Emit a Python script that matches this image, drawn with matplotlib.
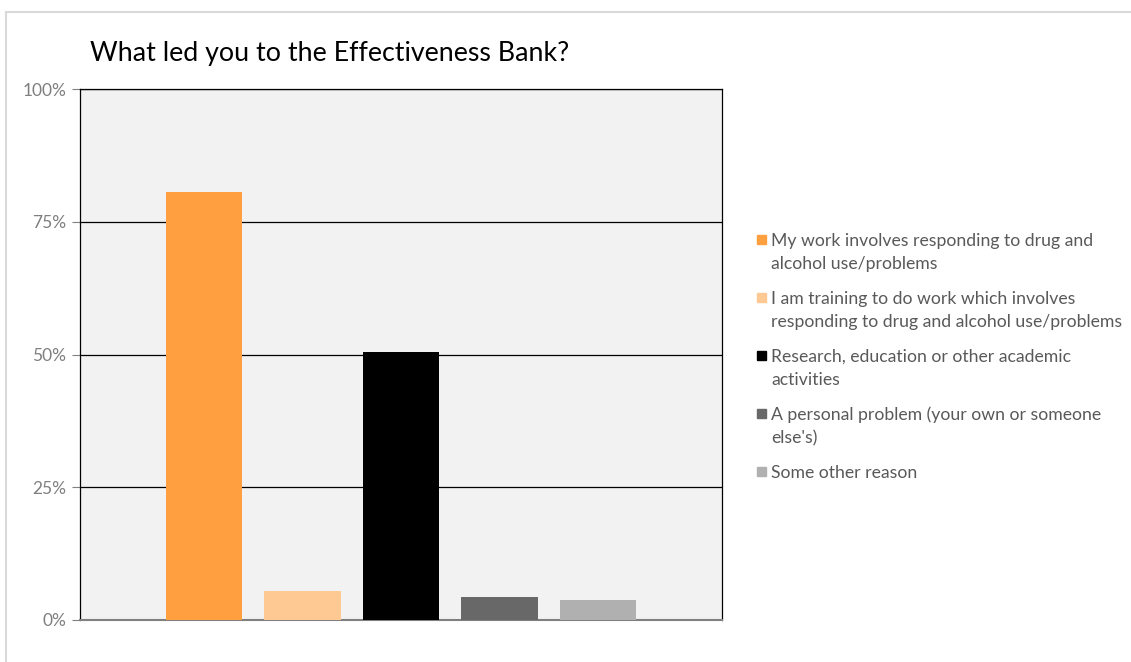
import numpy as np
import matplotlib.pyplot as plt
from matplotlib.patches import Rectangle
from matplotlib.ticker import PercentFormatter

plt.rcParams['font.family'] = ['Lato', 'DejaVu Sans']

# survey answers (share of respondents)
reasons = [
    'My work involves responding to drug and\nalcohol use/problems',
    'I am training to do work which involves\nresponding to drug and alcohol use/problems',
    'Research, education or other academic\nactivities',
    "A personal problem (your own or someone\nelse's)",
    'Some other reason',
]
shares = [80.6, 5.5, 50.5, 4.3, 3.8]
colors = ['#FF9F40', '#FFC993', '#000000', '#686868', '#B0B0B0']
ticks = [0, 25, 50, 75, 100]

W, H = 1131, 662
fig = plt.figure(figsize=(W / 100, H / 100), dpi=100)

# light chart border (Excel chart area)
fig.patches.append(Rectangle((6 / W, -0.1), 1.2, (H - 12) / H + 0.1,
                             transform=fig.transFigure, fill=False,
                             edgecolor='#D9D9D9', lw=1.5))

ax = fig.add_axes([80 / W, 42 / H, 642 / W, 531 / H])
ax.set_facecolor('#F2F2F2')

x = np.arange(len(shares))
for i in range(len(shares)):
    ax.bar(x[i], shares[i], width=0.78, color=colors[i], zorder=3)

ax.set_xlim(-1.26, 5.26)
ax.set_ylim(0, 100)
ax.set_yticks(ticks)
ax.yaxis.set_major_formatter(PercentFormatter(decimals=0))
ax.set_xticks([])
ax.grid(axis='y', color='black', lw=0.9, zorder=1)
ax.tick_params(axis='y', colors='#808080', labelsize=12.5, length=6, width=0.8, pad=4)
ax.tick_params(axis='y', labelcolor='#7F7F7F')
for side in ['top', 'left', 'right']:
    ax.spines[side].set_color('black')
    ax.spines[side].set_linewidth(0.9)
ax.spines['bottom'].set_color('#808080')
ax.spines['bottom'].set_linewidth(1.5)

fig.text(90 / W, (H - 53) / H, 'What led you to the Effectiveness Bank?',
         fontsize=19.3, va='center', ha='left', color='black')

# legend drawn by hand so the marker sits on the first line like Excel does
y0 = 241
for i, label in enumerate(reasons):
    yc = y0 + i * 58
    fig.patches.append(Rectangle((757 / W, (H - yc - 3) / H), 9 / W, 9 / H,
                                 transform=fig.transFigure, color=colors[i]))
    for j, line in enumerate(label.split('\n')):
        fig.text(771 / W, (H - yc - j * 23) / H, line, fontsize=12.7,
                 va='center', ha='left', color='#595959')

fig.savefig('out.png', dpi=100)
